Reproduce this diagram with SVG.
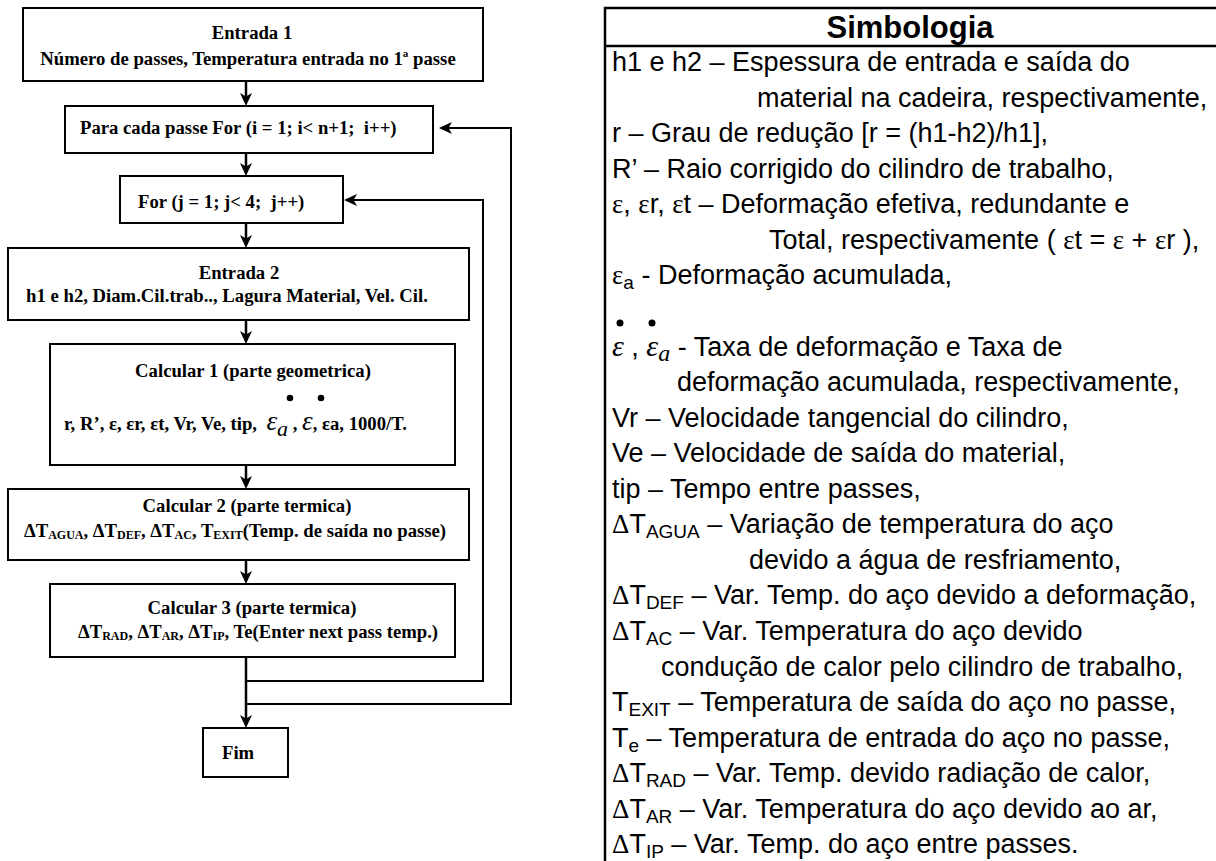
<svg xmlns="http://www.w3.org/2000/svg" width="1216" height="861" viewBox="0 0 1216 861">
<defs>
<style>
.box{fill:#fff;stroke:#000;stroke-width:2}
.b{font-family:"Liberation Serif","Times New Roman",serif;font-weight:bold;font-size:18.7px;fill:#000}
.c{text-anchor:middle}
.sb{font-size:12px}
.mi{font-family:"Liberation Serif","Times New Roman",serif;font-style:italic;font-weight:normal}
.s{font-family:"Liberation Sans",Arial,sans-serif;font-size:27px;fill:#000}
.g{font-family:"Liberation Serif","Times New Roman",serif}
.rs{font-size:19px}
.h{font-family:"Liberation Sans",Arial,sans-serif;font-weight:bold;font-size:31px;text-anchor:middle}
.ln{fill:none;stroke:#000;stroke-width:2.5}
</style>
<marker id="ah" markerUnits="userSpaceOnUse" viewBox="0 0 13 12" markerWidth="13" markerHeight="12" refX="8" refY="6" orient="auto">
<path d="M0,0 L13,6 L0,12 L3.5,6 Z" fill="#000"/>
</marker>
</defs>
<rect width="1216" height="861" fill="#fff"/>

<g id="connectors" class="ln">
<path d="M246 81 V101" marker-end="url(#ah)"/>
<path d="M246 153 V171" marker-end="url(#ah)"/>
<path d="M246 223 V243" marker-end="url(#ah)"/>
<path d="M246 320 V339" marker-end="url(#ah)"/>
<path d="M246 465 V484" marker-end="url(#ah)"/>
<path d="M246 560 V579" marker-end="url(#ah)"/>
<path d="M246 657 V723" marker-end="url(#ah)"/>
<path d="M246 681 H483 V200 H349" stroke-width="2" marker-end="url(#ah)"/>
<path d="M246 704 H511 V128 H444" stroke-width="2" marker-end="url(#ah)"/>
</g>

<g id="n-entrada1">
<rect class="box" x="23" y="8" width="460" height="73"/>
<text class="b c" x="252" y="39">Entrada 1</text>
<text class="b c" x="248" y="65">Número de passes, Temperatura entrada no 1ª passe</text>
</g>
<g id="n-para">
<rect class="box" x="65" y="106" width="368" height="47"/>
<text class="b" x="80" y="134" xml:space="preserve">Para cada passe For (i = 1; i&lt; n+1;  i++)</text>
</g>
<g id="n-for">
<rect class="box" x="120" y="176" width="223" height="47"/>
<text class="b" x="138" y="208" xml:space="preserve">For (j = 1; j&lt; 4;  j++)</text>
</g>
<g id="n-entrada2">
<rect class="box" x="8" y="248" width="461" height="72"/>
<text class="b c" x="239" y="279">Entrada 2</text>
<text class="b c" x="227" y="302">h1 e h2, Diam.Cil.trab.., Lagura Material, Vel. Cil.</text>
</g>
<g id="n-calc1">
<rect class="box" x="50" y="344" width="405" height="121"/>
<text class="b c" x="253" y="377">Calcular 1 (parte geometrica)</text>
<circle cx="290" cy="398" r="3.3"/>
<circle cx="321" cy="398" r="3.3"/>
<text class="b" x="64" y="430" font-size="19" xml:space="preserve">r, R’, ε, εr, εt, Vr, Ve, tip,  <tspan class="mi" font-size="27">ε</tspan><tspan class="mi" font-size="22" dy="6">a</tspan><tspan dy="-6"> , </tspan><tspan class="mi" font-size="27">ε</tspan>, εa, 1000/T.</text>
</g>
<g id="n-calc2">
<rect class="box" x="8" y="489" width="461" height="71"/>
<text class="b c" x="247" y="512">Calcular 2 (parte termica)</text>
<text class="b c" x="235" y="537">ΔT<tspan class="sb" dy="1.5">AGUA</tspan><tspan dy="-1.5">, ΔT</tspan><tspan class="sb" dy="1.5">DEF</tspan><tspan dy="-1.5">, ΔT</tspan><tspan class="sb" dy="1.5">AC</tspan><tspan dy="-1.5">, T</tspan><tspan class="sb" dy="1.5">EXIT</tspan><tspan dy="-1.5">(Temp. de saída no passe)</tspan></text>
</g>
<g id="n-calc3">
<rect class="box" x="50" y="584" width="405" height="73"/>
<text class="b c" x="252" y="614">Calcular 3 (parte termica)</text>
<text class="b c" x="258" y="638">ΔT<tspan class="sb" dy="1.5">RAD</tspan><tspan dy="-1.5">, ΔT</tspan><tspan class="sb" dy="1.5">AR</tspan><tspan dy="-1.5">, ΔT</tspan><tspan class="sb" dy="1.5">IP</tspan><tspan dy="-1.5">, Te(Enter next pass temp.)</tspan></text>
</g>
<g id="n-fim">
<rect class="box" x="203" y="728" width="85" height="49"/>
<text class="b" x="222" y="759">Fim</text>
</g>

<g id="simbologia">
<path class="ln" d="M605 861 V8 H1216 M605 46 H1216"/>
<text class="h" x="910" y="38">Simbologia</text>
<g class="s" xml:space="preserve">
<text x="612" y="71">h1 e h2 – Espessura de entrada e saída do</text>
<text x="757" y="106.6">material na cadeira, respectivamente,</text>
<text x="612" y="142.1">r – Grau de redução [r = (h1-h2)/h1],</text>
<text x="612" y="177.7">R’ – Raio corrigido do cilindro de trabalho,</text>
<text x="612" y="213.2"><tspan class="g">ε</tspan>, <tspan class="g">ε</tspan>r, <tspan class="g">ε</tspan>t – Deformação efetiva, redundante e</text>
<text x="769" y="248.8">Total, respectivamente ( <tspan class="g">ε</tspan>t = <tspan class="g">ε</tspan> + <tspan class="g">ε</tspan>r ),</text>
<text x="612" y="284.4"><tspan class="g">ε</tspan><tspan class="rs" dy="5">a</tspan><tspan dy="-5"> - Deformação acumulada,</tspan></text>
<circle cx="620" cy="323" r="3.5"/>
<circle cx="652" cy="323" r="3.5"/>
<text x="612" y="355.5"><tspan class="mi" font-size="30">ε</tspan> , <tspan class="mi" font-size="30">ε</tspan><tspan class="mi" font-size="24" dy="5">a</tspan><tspan dy="-5">  - Taxa de deformação e Taxa de</tspan></text>
<text x="677" y="391">deformação acumulada, respectivamente,</text>
<text x="612" y="426.6">Vr – Velocidade tangencial do cilindro,</text>
<text x="612" y="462.2">Ve – Velocidade de saída do material,</text>
<text x="612" y="497.7">tip – Tempo entre passes,</text>
<text x="612" y="533.3"><tspan class="g">Δ</tspan>T<tspan class="rs" dy="5">AGUA</tspan><tspan dy="-5"> – Variação de temperatura do aço</tspan></text>
<text x="749" y="568.8">devido a água de resfriamento,</text>
<text x="612" y="604.4"><tspan class="g">Δ</tspan>T<tspan class="rs" dy="5">DEF</tspan><tspan dy="-5"> – Var. Temp. do aço devido a deformação,</tspan></text>
<text x="612" y="640"><tspan class="g">Δ</tspan>T<tspan class="rs" dy="5">AC</tspan><tspan dy="-5"> – Var. Temperatura do aço devido</tspan></text>
<text x="661" y="675.5">condução de calor pelo cilindro de trabalho,</text>
<text x="612" y="711.1">T<tspan class="rs" dy="5">EXIT</tspan><tspan dy="-5"> – Temperatura de saída do aço no passe,</tspan></text>
<text x="612" y="746.6">T<tspan class="rs" dy="5">e</tspan><tspan dy="-5"> – Temperatura de entrada do aço no passe,</tspan></text>
<text x="612" y="782.2"><tspan class="g">Δ</tspan>T<tspan class="rs" dy="5">RAD</tspan><tspan dy="-5"> – Var. Temp. devido radiação de calor,</tspan></text>
<text x="612" y="817.8"><tspan class="g">Δ</tspan>T<tspan class="rs" dy="5">AR</tspan><tspan dy="-5"> – Var. Temperatura do aço devido ao ar,</tspan></text>
<text x="612" y="853.3"><tspan class="g">Δ</tspan>T<tspan class="rs" dy="5">IP</tspan><tspan dy="-5"> – Var. Temp. do aço entre passes.</tspan></text>
</g>
</g>
</svg>
